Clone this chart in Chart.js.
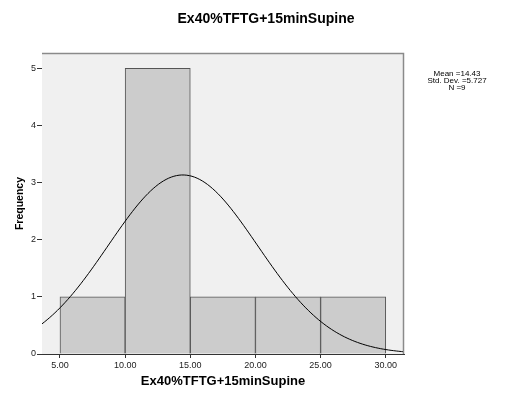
<!DOCTYPE html>
<html>
<head>
<meta charset="utf-8">
<script src="https://cdn.jsdelivr.net/npm/chart.js@4/dist/chart.umd.min.js"></script>
<style>
  html, body { margin: 0; padding: 0; background: #ffffff; }
  #wrap { width: 505px; height: 395px; }
</style>
</head>
<body>
<div id="wrap"><canvas id="hist" width="505" height="395"></canvas></div>
<script>
// Histogram bins (lower edges), bin width and counts
const binStarts = [5, 10, 15, 20, 25];
const binWidth = 5;
const frequencies = [1, 5, 1, 1, 1];

// Axis ticks
const xTicks = [5, 10, 15, 20, 25, 30];
const yTicks = [0, 1, 2, 3, 4, 5];

// Summary statistics shown beside the plot
const meanValue = 14.43;
const stdDev = 5.727;
const sampleSize = 9;
const statLines = ['Mean =14.43', 'Std. Dev. =5.727', 'N =9'];

const varName = 'Ex40%TFTG+15minSupine';
const FONT = "'Liberation Sans', Arial, sans-serif";

const xMin = 3.62, xMax = 31.4, yMax = 5.27;

// Bars centred on each bin
const barData = binStarts.map((s, i) => ({ x: s + binWidth / 2, y: frequencies[i] }));

// Fitted normal curve, scaled to counts per bin
const curveData = [];
const steps = 140;
for (let i = 0; i <= steps; i++) {
  const x = xMin + (xMax - xMin) * i / steps;
  const z = (x - meanValue) / stdDev;
  const y = sampleSize * binWidth / (stdDev * Math.sqrt(2 * Math.PI)) * Math.exp(-0.5 * z * z);
  curveData.push({ x, y });
}

// Plot panel background and frame, chart heading and the statistics block
const panelPlugin = {
  id: 'panel',
  beforeDatasetsDraw(chart) {
    const { ctx, chartArea: a } = chart;
    ctx.save();
    ctx.fillStyle = '#f0f0f0';
    ctx.fillRect(a.left, a.top, a.right - a.left, a.bottom - a.top);
    ctx.restore();
  },
  afterDatasetsDraw(chart) {
    const { ctx, chartArea: a } = chart;
    ctx.save();
    ctx.strokeStyle = '#8a8a8a';
    ctx.lineWidth = 1.5;
    ctx.beginPath();
    ctx.moveTo(a.left, a.top + 0.5);
    ctx.lineTo(a.right - 0.5, a.top + 0.5);
    ctx.lineTo(a.right - 0.5, a.bottom);
    ctx.stroke();
    ctx.restore();
  },
  afterDraw(chart) {
    const { ctx } = chart;
    ctx.save();
    ctx.fillStyle = '#000000';
    ctx.textAlign = 'center';
    ctx.textBaseline = 'middle';
    ctx.font = 'bold 14px ' + FONT;
    ctx.fillText(varName, 266, 19);
    ctx.font = '8px ' + FONT;
    statLines.forEach((t, i) => ctx.fillText(t, 457, 74 + i * 6.8));
    ctx.restore();
  }
};

new Chart(document.getElementById('hist'), {
  data: {
    datasets: [
      {
        type: 'line',
        data: curveData,
        borderColor: '#000000',
        borderWidth: 1,
        pointRadius: 0,
        tension: 0,
        fill: false,
        order: 0
      },
      {
        type: 'bar',
        data: barData,
        backgroundColor: '#cccccc',
        borderColor: '#555555',
        borderWidth: 1,
        barPercentage: 1,
        categoryPercentage: 1,
        order: 1
      }
    ]
  },
  options: {
    responsive: false,
    animation: false,
    events: [],
    layout: { padding: { left: 0, right: 101, top: 53, bottom: 0 } },
    plugins: {
      legend: { display: false },
      tooltip: { enabled: false },
      title: { display: false }
    },
    scales: {
      x: {
        type: 'linear',
        offset: false,
        min: xMin,
        max: xMax,
        afterBuildTicks(scale) { scale.ticks = xTicks.map(v => ({ value: v })); },
        afterFit(scale) { scale.height = 41; },
        ticks: {
          callback: v => Number(v).toFixed(2),
          color: '#222222',
          font: { family: FONT, size: 9 },
          padding: 2,
          maxRotation: 0,
          autoSkip: false
        },
        grid: { offset: false, drawOnChartArea: false, drawTicks: true, tickLength: 4, color: '#333333' },
        border: { display: true, color: '#333333', width: 1 },
        title: {
          display: true,
          text: varName,
          color: '#000000',
          font: { family: FONT, size: 13, weight: 'bold' },
          padding: { top: 0, bottom: 6 }
        }
      },
      y: {
        type: 'linear',
        min: 0,
        max: yMax,
        afterBuildTicks(scale) { scale.ticks = yTicks.map(v => ({ value: v })); },
        afterFit(scale) { scale.width = 42; },
        ticks: {
          callback: v => String(v),
          color: '#222222',
          font: { family: FONT, size: 9 },
          padding: 1
        },
        grid: { drawOnChartArea: false, drawTicks: true, tickLength: 5, color: '#333333' },
        border: { display: true, color: '#333333', width: 1 },
        title: {
          display: true,
          text: 'Frequency',
          color: '#000000',
          font: { family: FONT, size: 10.5, weight: 'bold' },
          padding: { top: 13.7, bottom: 0 }
        }
      }
    }
  },
  plugins: [panelPlugin]
});
</script>
</body>
</html>
